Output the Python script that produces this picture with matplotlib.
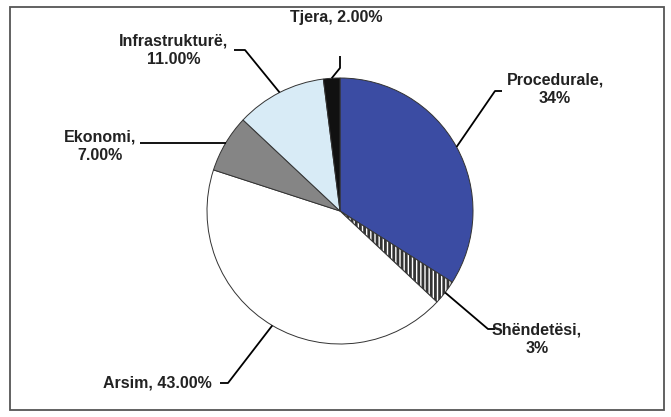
import numpy as np
import matplotlib
matplotlib.use("Agg")
import matplotlib.pyplot as plt
from matplotlib.patches import Rectangle

labels = ["Procedurale,\n34%", "Shëndetësi,\n3%", "Arsim, 43.00%",
          "Ekonomi,\n7.00%", "Infrastrukturë,\n11.00%", "Tjera, 2.00%"]
values = [34, 3, 43, 7, 11, 2]
colors = ["#3B4CA3", "white", "white", "#858585", "#D8EBF6", "#111111"]
hatches = [None, "||||", None, None, None, None]

W, H = 671, 417
plt.rcParams["font.family"] = ["Liberation Sans", "DejaVu Sans"]
plt.rcParams["hatch.linewidth"] = 2.0

fig = plt.figure(figsize=(W / 100, H / 100), dpi=100)
ax = fig.add_axes([0, 0, 1, 1])

cx, cy, r = 340, H - 211, 133
wedges, _ = ax.pie(values, colors=colors, startangle=90, counterclock=False,
                   center=(cx, cy), radius=r,
                   wedgeprops=dict(edgecolor="#333333", linewidth=0.7))
for w, h in zip(wedges, hatches):
    if h:
        w.set_hatch(h)

ax.set_xlim(0, W)
ax.set_ylim(0, H)
ax.set_aspect("equal")
ax.axis("off")

# outer frame
ax.add_patch(Rectangle((10, H - 410), 654, 403, fill=False,
                       edgecolor="#555555", linewidth=1.3))

# label layout in pixel coords (y down): text centre, elbow, line end
# elbow None -> straight horizontal line to x of "end"
layout = [
    ((555, 89), (495, 91), (502, 91)),
    ((537, 339), (488, 329), (495, 329)),
    ((157, 383), (228, 383), (220, 383)),
    ((100, 146), None, (140, None)),
    ((174, 50), (245, 50), (234, 50)),
    ((336, 17), (340, 68), (340, 56)),
]

for w, lab, (txt, elbow, end) in zip(wedges, labels, layout):
    ang = np.deg2rad((w.theta1 + w.theta2) / 2)
    px = cx + r * np.cos(ang)
    py = cy + r * np.sin(ang)
    if elbow is None:
        xs, ys = [px, end[0]], [py, py]
    else:
        xs = [px, elbow[0], end[0]]
        ys = [py, H - elbow[1], H - end[1]]
    ax.plot(xs, ys, color="black", lw=1.3, solid_capstyle="butt")
    ax.text(txt[0], H - txt[1], lab, ha="center", va="center", fontsize=11.5,
            fontweight="bold", color="#222222", linespacing=1.3)

fig.savefig("out.png", dpi=100)
